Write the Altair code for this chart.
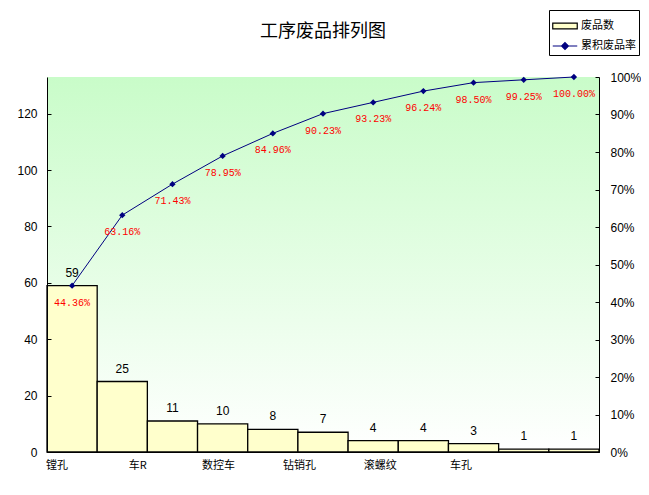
import json
import altair as alt
import pandas as pd

# ---- data ----
counts = [59, 25, 11, 10, 8, 7, 4, 4, 3, 1, 1]
cum_pct = [44.36, 63.16, 71.43, 78.95, 84.96, 90.23, 93.23, 96.24, 98.50, 99.25, 100.00]
tick_labels = ["镗孔", "", "车R", "", "数控车", "", "钻销孔", "", "滚螺纹", "", "车孔"]
series_names = ["废品数", "累积废品率"]
total = sum(counts)

df = pd.DataFrame({
    "idx": list(range(len(counts))),
    "count": counts,
    "pct": [p / 100 for p in cum_pct],
    "pct_label": [f"{p:.2f}%" for p in cum_pct],
})
legend_df = pd.DataFrame({"series": series_names})

W, H = 552, 375
NUM_FONT = "Liberation Sans, Noto Sans CJK SC"
CJK_FONT = "Noto Sans CJK SC"

label_expr = json.dumps(tick_labels, ensure_ascii=False) + "[datum.value]"

x_enc = alt.X(
    "idx:O",
    title=None,
    scale=alt.Scale(paddingInner=0, paddingOuter=0),
    axis=alt.Axis(
        labelExpr=label_expr,
        labelAngle=0,
        ticks=False,
        domainColor="black",
        labelColor="black",
        labelFont=CJK_FONT,
        labelFontSize=11,
        labelPadding=7,
        labelOffset={"expr": "-15 - 9.8*datum.value"},
        zindex=1,
    ),
)

gradient = {
    "gradient": "linear",
    "x1": 0, "y1": 0, "x2": 0, "y2": 1,
    "stops": [
        {"offset": 0, "color": "#c9fcc9"},
        {"offset": 1, "color": "#ffffff"},
    ],
}

background = alt.Chart(pd.DataFrame({"a": [0]})).mark_rect(fill=gradient, stroke=None).encode(
    x=alt.value(0), x2=alt.value(W), y=alt.value(0), y2=alt.value(H)
)

# inward ticks drawn as short dashed grid segments
y_left = alt.Y(
    "count:Q",
    title=None,
    scale=alt.Scale(domain=[0, total], nice=False),
    axis=alt.Axis(
        orient="left",
        values=[0, 20, 40, 60, 80, 100, 120],
        ticks=False,
        grid=True,
        gridColor="black",
        gridDash=[4, 3000],
        gridOpacity=1,
        domainColor="black",
        labelColor="black",
        labelFont=NUM_FONT,
        labelFontSize=12,
        labelPadding=10,
        zindex=1,
    ),
)

bars = alt.Chart(df).mark_bar(fill="#ffffcc", stroke="black", strokeWidth=1.3).encode(
    x=x_enc, y=y_left
)
bar_text = alt.Chart(df).mark_text(
    baseline="bottom", dy=-6, fontSize=12, font=NUM_FONT, color="black"
).encode(x=x_enc, y=y_left, text="count:Q")

left_group = alt.layer(background, bars, bar_text)

y_right = alt.Y(
    "pct:Q",
    title=None,
    scale=alt.Scale(domain=[0, 1], nice=False),
    axis=alt.Axis(
        orient="right",
        values=[i / 10 for i in range(11)],
        format=".0%",
        ticks=False,
        grid=True,
        gridColor="black",
        gridDash=[4, 3000],
        gridOpacity=1,
        domainColor="black",
        labelColor="black",
        labelFont=NUM_FONT,
        labelFontSize=12,
        labelPadding=11,
        zindex=1,
    ),
)

line = alt.Chart(df).mark_line(color="#000080", strokeWidth=1).encode(x=x_enc, y=y_right)
pts = alt.Chart(df).mark_point(shape="diamond", filled=True, size=40, color="#000080", opacity=1).encode(
    x=x_enc, y=y_right
)
pct_text = alt.Chart(df).mark_text(
    baseline="middle", dy=17, fontSize=10, font="Liberation Mono", color="#ff0000"
).encode(x=x_enc, y=y_right, text="pct_label:N")

leg = alt.Legend(
    title=None,
    orient="none",
    legendX=502,
    legendY=-67,
    strokeColor="black",
    fillColor="white",
    padding=3,
    labelFont=CJK_FONT,
    labelFontSize=11,
    labelColor="black",
    symbolStrokeWidth=1.2,
    symbolSize=600,
    symbolOpacity=1,
    rowPadding=1,
    labelOffset=3,
)

legend_pts = alt.Chart(legend_df).mark_point(filled=True, opacity=0).encode(
    x=alt.value(10),
    y=alt.value(10),
    fill=alt.Fill("series:N", scale=alt.Scale(domain=series_names, range=["#ffffcc", "#000080"]),
                  legend=leg),
    stroke=alt.Stroke("series:N", scale=alt.Scale(domain=series_names, range=["black", "#000080"]),
                      legend=leg),
    shape=alt.Shape("series:N", scale=alt.Scale(
        domain=series_names,
        range=["M-1,-0.24H1V0.24H-1Z", "M-1,0H1M0,-0.28L0.28,0L0,0.28L-0.28,0Z"]),
        legend=leg),
)

right_group = alt.layer(line, pts, pct_text, legend_pts)

chart = alt.layer(left_group, right_group).resolve_scale(y="independent").properties(
    width=W,
    height=H,
    autosize=alt.AutoSizeParams(type="none"),
    padding={"left": 39, "top": 69, "right": 42, "bottom": 35},
    title=alt.TitleParams("工序废品排列图", font=CJK_FONT, fontSize=18, fontWeight="normal",
                          color="black", anchor="middle", offset=-31),
).configure_view(
    stroke="#808080", strokeWidth=1
).configure(background="white")

chart.save("out.html", embed_options={"renderer": "svg", "actions": False})
